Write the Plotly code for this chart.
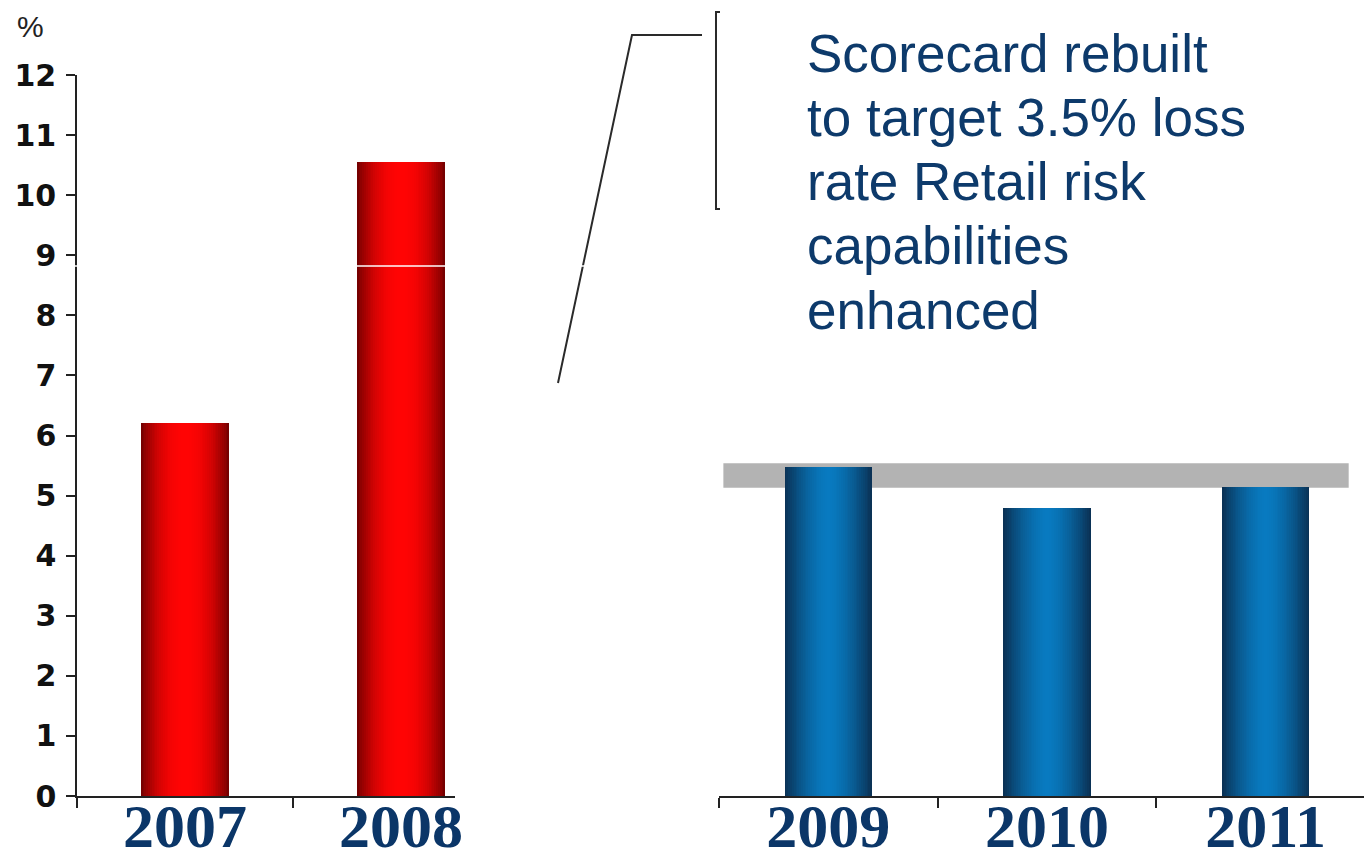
import plotly.graph_objects as go

# ---- data -------------------------------------------------------------
years_before = ["2007", "2008"]
loss_before = [6.2, 10.55]

years_after = ["2009", "2010", "2011"]
loss_after = [5.48, 4.8, 5.15]

target_band = [5.13, 5.54]          # shaded target range (%)
y_ticks = list(range(0, 13))

note_lines = [
    "Scorecard rebuilt",
    "to target 3.5% loss",
    "rate Retail risk",
    "capabilities",
    "enhanced",
]

# ---- page geometry ----------------------------------------------------
W, H = 1364, 854
M_L, M_R, M_T, M_B = 77, 0, 75, 58
PW = W - M_L - M_R
PH = H - M_T - M_B


def px(x):
    """pixel column -> paper x"""
    return (x - M_L) / PW


def py(y):
    """pixel row -> paper y"""
    return (H - M_B - y) / PH


NAVY = "#0b3668"
AXIS = "#222222"

RED_EDGE, RED_CORE = (112, 0, 0), (255, 4, 4)
BLUE_EDGE, BLUE_CORE = (10, 48, 82), (8, 122, 192)


def mix(c0, c1, t):
    return "rgb(%d,%d,%d)" % tuple(round(a + (b - a) * t) for a, b in zip(c0, c1))


fig = go.Figure()

# cylinder-style shading: stacked bars of shrinking width, dark rim -> bright core
LAYERS = 24


def add_shaded_bars(x, y, width, edge, core, power, xa, ya):
    for k in range(LAYERS):
        r = 1 - k / LAYERS
        d = r - 0.5 / LAYERS
        t = 1 - d ** power
        fig.add_trace(go.Bar(
            x=x, y=y, width=width * r,
            marker=dict(color=mix(edge, core, t), line=dict(width=0)),
            xaxis=xa, yaxis=ya, showlegend=False, hoverinfo="skip",
        ))


add_shaded_bars(years_before, loss_before, 0.41, RED_EDGE, RED_CORE, 2.2, "x", "y")
add_shaded_bars(years_after, loss_after, 0.40, BLUE_EDGE, BLUE_CORE, 1.6, "x2", "y2")

year_font = dict(family="Liberation Serif", size=62, color=NAVY, weight="bold")

fig.update_layout(
    width=W, height=H,
    margin=dict(l=M_L, r=M_R, t=M_T, b=M_B, pad=0, autoexpand=False),
    paper_bgcolor="white", plot_bgcolor="white",
    barmode="overlay", bargap=0,
    showlegend=False,
    xaxis=dict(
        domain=[0, px(455)], range=[-0.5, 1.25], type="category",
        showline=True, linecolor=AXIS, linewidth=1.5,
        ticks="outside", tickson="boundaries", ticklen=10, tickwidth=1.5,
        tickcolor=AXIS, tickfont=year_font, showgrid=False, zeroline=False,
        ticklabelstandoff=-25, automargin=False,
    ),
    yaxis=dict(
        domain=[0, 1], range=[0, 12], tickvals=y_ticks,
        showline=True, linecolor=AXIS, linewidth=1.5,
        ticks="outside", ticklen=9, tickwidth=1.5, tickcolor=AXIS,
        tickfont=dict(family="DejaVu Sans", size=30, color="#111111", weight="bold"),
        showgrid=False, zeroline=False, ticklabelstandoff=4, automargin=False,
    ),
    xaxis2=dict(
        domain=[px(719), 1.0], range=[-0.5, 2.45], type="category",
        anchor="y2",
        showline=True, linecolor=AXIS, linewidth=1.5,
        ticks="outside", tickson="boundaries", ticklen=10, tickwidth=1.5,
        tickcolor=AXIS, tickfont=year_font, showgrid=False, zeroline=False,
        ticklabelstandoff=-25, automargin=False,
    ),
    yaxis2=dict(
        domain=[0, 1], range=[0, 12], anchor="x2",
        showline=False, showticklabels=False, ticks="",
        showgrid=False, zeroline=False, automargin=False,
    ),
)

shapes = [
    # target band behind the later bars
    dict(type="rect", xref="x2", yref="y2", x0=-0.48, x1=2.38,
         y0=target_band[0], y1=target_band[1],
         fillcolor="#b3b3b3", line=dict(width=0), layer="below"),
    # callout leader
    dict(type="path", xref="paper", yref="paper",
         path="M %f,%f L %f,%f L %f,%f" % (px(558), py(383), px(632), py(35), px(702), py(35)),
         line=dict(color="#2a2a2a", width=2)),
    # bracket beside the note
    dict(type="path", xref="paper", yref="paper",
         path="M %f,%f L %f,%f L %f,%f L %f,%f" % (px(720), py(12), px(716), py(12),
                                                   px(716), py(209), px(720), py(209)),
         line=dict(color="#2a2a2a", width=2)),
    # thin white rule across the upper left panel
    dict(type="line", xref="paper", yref="paper",
         x0=px(72), x1=px(600), y0=py(266), y1=py(266),
         line=dict(color="white", width=1.5), layer="above"),
]
fig.update_layout(shapes=shapes)

annotations = [
    dict(text="%", xref="paper", yref="paper", x=px(30), y=py(26),
         xanchor="center", yanchor="middle", showarrow=False,
         font=dict(family="Liberation Sans", size=30, color="#222222")),
]
for i, line in enumerate(note_lines):
    annotations.append(dict(
        text=line, xref="paper", yref="paper",
        x=px(805), y=py(53 + i * 64.3), xanchor="left", yanchor="middle",
        showarrow=False,
        font=dict(family="Liberation Sans", size=53, color="#0d3a6b"),
    ))
fig.update_layout(annotations=annotations)

fig.write_html("out.html")
